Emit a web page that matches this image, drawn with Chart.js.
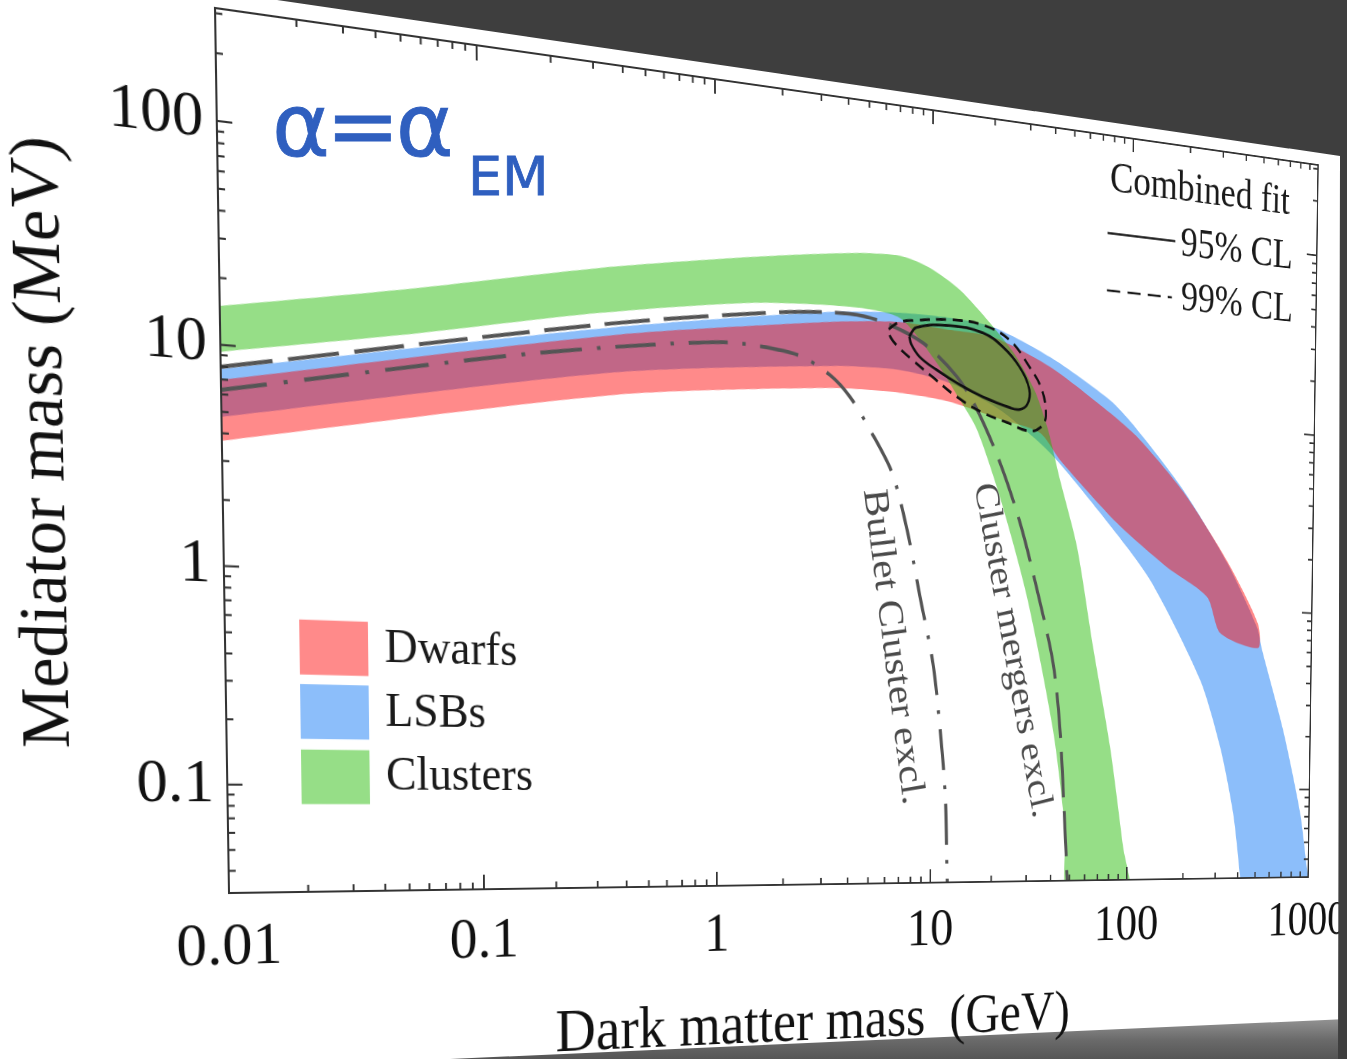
<!DOCTYPE html>
<html>
<head>
<meta charset="utf-8">
<script src="https://cdn.jsdelivr.net/npm/chart.js@4.4.1/dist/chart.umd.min.js"></script>
<style>
  html, body { margin: 0; padding: 0; background: #fff; }
  #stage { position: relative; width: 1347px; height: 1059px; overflow: hidden; background: #fff; }
  #floor { position: absolute; left: 0; top: 0; width: 1347px; height: 1059px;
           clip-path: polygon(450px 1059px, 1347px 1019px, 1347px 1059px);
           background: linear-gradient(to bottom, #9a9a9a 0px, #9a9a9a 1015px, #6a6a6a 1040px, #555 1059px); }
  #chart { position: absolute; left: 0; top: 0; transform-origin: 0 0; }
  #backdrop { position: absolute; left: 0; top: 0; width: 1347px; height: 1059px; background: #3e3e3e;
              clip-path: polygon(277px 0, 1347px 0, 1347px 1059px, 1338px 1059px, 1340px 156px); }
  .ink { position: absolute; color: #2f5fbf; font-family: "DejaVu Sans"; line-height: 1; white-space: nowrap;
         -webkit-text-stroke: 0.8px #2f5fbf; }
  #ink1 { left: 272px; top: 82px; font-size: 88px; letter-spacing: -4px; }
  #ink2 { left: 468px; top: 150px; font-size: 54px; }
</style>
</head>
<body>
<div id="stage">
  <div id="floor"></div>
  <canvas id="chart" width="1613" height="1100"></canvas>
  <div id="backdrop"></div>
  <div class="ink" id="ink1">α=α</div>
  <div class="ink" id="ink2">EM</div>
</div>
<script>
const xMin = 0.01, xMax = 1000;
const yMin = 0.0316, yMax = 316;
const xTicks = [0.01, 0.1, 1, 10, 100, 1000];
const yTicks = [0.1, 1, 10, 100];

// Clusters band
const clustersUpX = [0.009, 0.0486, 0.318, 1.43, 4.07, 7.0, 9.7, 13.6, 19.1, 25.5, 32.2, 37.5, 43.3, 53.2, 65.0, 80.5, 95.3, 104];
const clustersUpY = [14.6, 21.1, 33.2, 44.8, 53.2, 54.9, 49.6, 39.7, 27.8, 19.5, 12.8, 8.16, 4.49, 2.0, 0.585, 0.169, 0.048, 0.024];
const clustersLowX = [0.009, 0.0484, 0.317, 1.42, 4.08, 7.0, 10.3, 13.7, 16.6, 21.6, 29.7, 40.7, 47.3, 49.4];
const clustersLowY = [9.1, 13.0, 20.2, 26.6, 28.5, 26.5, 16.8, 10.7, 7.63, 3.47, 1.05, 0.206, 0.0596, 0.0248];

// LSBs band
const lsbUpX = [0.009, 0.367, 3.40, 7.0, 12.2, 19.8, 38.2, 77.7, 103, 191, 334, 494, 528, 702, 890, 1000, 1100];
const lsbUpY = [7.61, 17.5, 26.4, 28.2, 28.2, 26.6, 19.8, 12.5, 9.44, 4.40, 1.81, 0.803, 0.606, 0.217, 0.0735, 0.0316, 0.02];
const lsbLowX = [0.009, 0.366, 3.40, 7.02, 12.2, 21.5, 38.5, 69.8, 128.5, 241.6, 313.7, 373.7, 412.8, 425];
const lsbLowY = [4.63, 10.6, 14.1, 14.4, 13.0, 9.92, 6.18, 3.09, 1.39, 0.403, 0.172, 0.0735, 0.032, 0.022];

// Dwarfs band
const dwarfsUpX = [0.009, 0.366, 3.40, 7.01, 12.2, 19.8, 38.2, 77.8, 112, 191, 334, 500, 501];
const dwarfsUpY = [6.79, 16.05, 23.5, 25.3, 24.4, 23.6, 17.6, 10.7, 7.89, 4.3, 1.85, 0.84, 0.621];
const dwarfsLowX = [0.009, 0.365, 3.40, 7.03, 12.2, 21.5, 34.2, 43.2, 85.6, 158, 261, 309];
const dwarfsLowY = [3.61, 8.23, 10.9, 11.0, 10.4, 8.90, 7.81, 5.73, 2.76, 1.65, 1.16, 0.739];

// exclusion curves
const mergersX = [0.01, 0.367, 2.16, 4.08, 5.82, 9.03, 13.2, 16.6, 21.6, 27.3, 33.4, 40.5, 44.2, 47.3, 48.8];
const mergersY = [7.96, 18.3, 25.1, 26.3, 24.8, 20.3, 14.1, 9.70, 5.24, 2.57, 1.15, 0.472, 0.207, 0.0596, 0.0316];
const bulletX = [0.01, 0.121, 0.366, 1.05, 1.58, 2.40, 3.29, 4.08, 5.07, 6.45, 7.62, 8.82, 10.2, 11.1, 11.8, 12.1];
const bulletY = [6.27, 11.3, 14.05, 16.5, 16.4, 15.3, 12.65, 10.0, 6.92, 4.25, 2.19, 0.99, 0.452, 0.202, 0.0895, 0.0316];

// combined fit contours
const cl95X = [7.76, 8.39, 12.17, 17.66, 22.13, 26.8, 30.1, 29.4, 26.9, 24.0, 17.7, 13.66, 10.5, 8.69, 7.94, 7.76];
const cl95Y = [21.6, 24.2, 25.7, 24.5, 21.2, 17.0, 13.05, 10.9, 10.17, 10.3, 11.4, 12.85, 15.0, 17.2, 19.7, 21.6];
const cl99X = [6.19, 6.93, 8.39, 12.2, 17.65, 23.9, 30.05, 34.8, 36.5, 34.5, 30.1, 23.25, 17.7, 13.2, 10.07, 8.03, 6.93, 6.33, 6.19];
const cl99Y = [22.96, 25.2, 26.3, 27.6, 26.9, 23.2, 17.2, 13.2, 9.63, 8.40, 7.91, 8.59, 9.43, 11.1, 13.7, 16.45, 18.7, 20.9, 22.96];

// where the plot frame sits in the photo (bottom-left, bottom-right, top-left, top-right)
const framePage = [[229, 893], [1308, 877], [215, 8], [1318, 165]];

const serif = '"Liberation Serif", "Times New Roman", serif';
const red = 'rgba(255, 0, 0, 0.46)';
const blue = 'rgb(140, 190, 250)';
const green = 'rgba(36, 186, 5, 0.48)';

function points(xs, ys) {
    return xs.map((x, i) => ({ x: x, y: ys[i] }));
}

function band(upX, upY, lowX, lowY) {
    return points(upX, upY).concat(points(lowX, lowY).reverse());
}

function bandSet(label, data, color, order) {
    return { label: label, data: data, fill: 'shape', backgroundColor: color, borderColor: 'rgba(0,0,0,0)',
             borderWidth: 0, pointRadius: 0, tension: 0.25, order: order };
}

function curveSet(label, data, color, width, dash, order, tension) {
    return { label: label, data: data, fill: false, borderColor: color, borderWidth: width, borderDash: dash,
             pointRadius: 0, tension: tension, order: order };
}

// inward ticks on all four sides plus the frame
const frameTicks = {
    id: 'frameTicks',
    afterDatasetsDraw(chart) {
        const ctx = chart.ctx, a = chart.chartArea, x = chart.scales.x, y = chart.scales.y;
        ctx.save();
        ctx.strokeStyle = '#333';
        ctx.lineWidth = 2;
        ctx.strokeRect(a.left, a.top, a.width, a.height);
        ctx.beginPath();
        for (let d = 0.01; d <= 1000; d *= 10) {
            for (let k = 1; k <= 9; k++) {
                const v = d * k;
                if (v < xMin * 0.999 || v > xMax * 1.001) continue;
                const px = x.getPixelForValue(v), len = k === 1 ? 15 : 7;
                ctx.moveTo(px, a.bottom); ctx.lineTo(px, a.bottom - len);
                ctx.moveTo(px, a.top); ctx.lineTo(px, a.top + len);
            }
        }
        for (let d = 0.01; d <= 100; d *= 10) {
            for (let k = 1; k <= 9; k++) {
                const v = d * k;
                if (v < yMin || v > yMax) continue;
                const py = y.getPixelForValue(v), len = k === 1 ? 15 : 7;
                ctx.moveTo(a.left, py); ctx.lineTo(a.left + len, py);
                ctx.moveTo(a.right, py); ctx.lineTo(a.right - len, py);
            }
        }
        ctx.stroke();
        ctx.restore();
    }
};

// axis titles, legend boxes, combined fit key and curve labels
const inPlane = {
    id: 'inPlane',
    afterDraw(chart) {
        const ctx = chart.ctx, a = chart.chartArea;
        const at = (u, v) => [a.left + u * a.width, a.bottom - v * a.height];
        ctx.save();
        ctx.textBaseline = 'middle';

        ctx.fillStyle = '#111';
        ctx.textAlign = 'center';
        ctx.font = '63px ' + serif;
        let p = at(0.5, -0.182);
        ctx.fillText('Dark matter mass  (GeV)', p[0], p[1]);
        ctx.font = '64px ' + serif;
        p = at(-0.127, 0.5);
        ctx.save();
        ctx.translate(p[0], p[1]);
        ctx.rotate(-Math.PI / 2);
        ctx.fillText('Mediator mass (MeV)', 0, 0);
        ctx.restore();

        ctx.font = '48px ' + serif;
        const rows = [[0, 0.2854], [1, 0.2107], [2, 0.1346]];
        rows.forEach(r => {
            const ds = chart.data.datasets[r[0]];
            const c = at(0.0826, r[1]);
            ctx.fillStyle = ds.backgroundColor;
            ctx.fillRect(c[0] - 35, c[1] - 27, 70, 54);
            const t = at(0.122, r[1]);
            ctx.fillStyle = '#1a1a1a';
            ctx.textAlign = 'left';
            ctx.fillText(ds.label, t[0], t[1]);
        });

        ctx.fillStyle = '#1a1a1a';
        ctx.textAlign = 'right';
        p = at(0.969, 0.942);
        ctx.fillText('Combined fit', p[0], p[1]);
        p = at(0.973, 0.868);
        ctx.fillText('95% CL', p[0], p[1]);
        p = at(0.974, 0.795);
        ctx.fillText('99% CL', p[0], p[1]);

        ctx.strokeStyle = '#1a1a1a';
        ctx.lineWidth = 2.5;
        let s = at(0.774, 0.871), e = at(0.845, 0.871);
        ctx.beginPath(); ctx.moveTo(s[0], s[1]); ctx.lineTo(e[0], e[1]); ctx.stroke();
        ctx.setLineDash([18, 10]);
        s = at(0.774, 0.795); e = at(0.842, 0.795);
        ctx.beginPath(); ctx.moveTo(s[0], s[1]); ctx.lineTo(e[0], e[1]); ctx.stroke();
        ctx.setLineDash([]);

        ctx.fillStyle = '#4a4a4a';
        ctx.textAlign = 'center';
        ctx.font = '45px ' + serif;
        [['Bullet Cluster excl.', 0.5633, 0.3066, 81.6], ['Cluster mergers excl.', 0.6809, 0.3065, 77.8]].forEach(l => {
            const c = at(l[1], l[2]);
            ctx.save();
            ctx.translate(c[0], c[1]);
            ctx.rotate(l[3] * Math.PI / 180);
            ctx.fillText(l[0], 0, 0);
            ctx.restore();
        });
        ctx.restore();
    }
};

const chart = new Chart(document.getElementById('chart'), {
    type: 'line',
    data: {
        datasets: [
            bandSet('Dwarfs', band(dwarfsUpX, dwarfsUpY, dwarfsLowX, dwarfsLowY), red, 5),
            bandSet('LSBs', band(lsbUpX, lsbUpY, lsbLowX, lsbLowY), blue, 6),
            bandSet('Clusters', band(clustersUpX, clustersUpY, clustersLowX, clustersLowY), green, 4),
            curveSet('Cluster mergers excl.', points(mergersX, mergersY), '#555', 4, [52, 16], 3, 0.3),
            curveSet('Bullet Cluster excl.', points(bulletX, bulletY), '#555', 4, [46, 17, 4, 17], 3, 0.3),
            curveSet('99% CL', points(cl99X, cl99Y), '#111', 3, [13, 8], 2, 0.4),
            curveSet('95% CL', points(cl95X, cl95Y), '#111', 3, [], 1, 0.4)
        ]
    },
    options: {
        responsive: false,
        animation: false,
        devicePixelRatio: 1,
        events: [],
        layout: { padding: { left: 115, right: 60, top: 40, bottom: 110 } },
        elements: { line: { capBezierPoints: false } },
        plugins: { legend: { display: false }, tooltip: { enabled: false } },
        scales: {
            x: {
                type: 'logarithmic', min: xMin, max: xMax,
                grid: { display: false }, border: { display: false },
                afterBuildTicks: s => { s.ticks = xTicks.map(v => ({ value: v })); },
                ticks: { callback: v => String(v), font: { family: serif, size: 60 }, color: '#111',
                         padding: 10, maxRotation: 0, autoSkip: false }
            },
            y: {
                type: 'logarithmic', min: yMin, max: yMax,
                grid: { display: false }, border: { display: false },
                afterBuildTicks: s => { s.ticks = yTicks.map(v => ({ value: v })); },
                ticks: { callback: v => String(v), font: { family: serif, size: 60 }, color: '#111',
                         padding: 5, autoSkip: false }
            }
        }
    },
    plugins: [frameTicks, inPlane]
});

function solveHomography(src, dst) {
    const A = [], b = [];
    for (let i = 0; i < 4; i++) {
        const x = src[i][0], y = src[i][1], X = dst[i][0], Y = dst[i][1];
        A.push([x, y, 1, 0, 0, 0, -X * x, -X * y]); b.push(X);
        A.push([0, 0, 0, x, y, 1, -Y * x, -Y * y]); b.push(Y);
    }
    for (let c = 0; c < 8; c++) {
        let p = c;
        for (let r = c + 1; r < 8; r++) if (Math.abs(A[r][c]) > Math.abs(A[p][c])) p = r;
        let t = A[c]; A[c] = A[p]; A[p] = t;
        t = b[c]; b[c] = b[p]; b[p] = t;
        for (let r = 0; r < 8; r++) {
            if (r === c) continue;
            const f = A[r][c] / A[c][c];
            for (let k = c; k < 8; k++) A[r][k] -= f * A[c][k];
            b[r] -= f * b[c];
        }
    }
    return b.map((v, i) => v / A[i][i]);
}

// tilt the flat chart so its plot frame lands where it sits in the photo
function mapPlane(chart) {
    const a = chart.chartArea;
    const src = [[a.left, a.bottom], [a.right, a.bottom], [a.left, a.top], [a.right, a.top]];
    const h = solveHomography(src, framePage);
    chart.canvas.style.transform = 'matrix3d(' +
        [h[0], h[3], 0, h[6], h[1], h[4], 0, h[7], 0, 0, 1, 0, h[2], h[5], 0, 1].join(',') + ')';
}

mapPlane(chart);
</script>
</body>
</html>
